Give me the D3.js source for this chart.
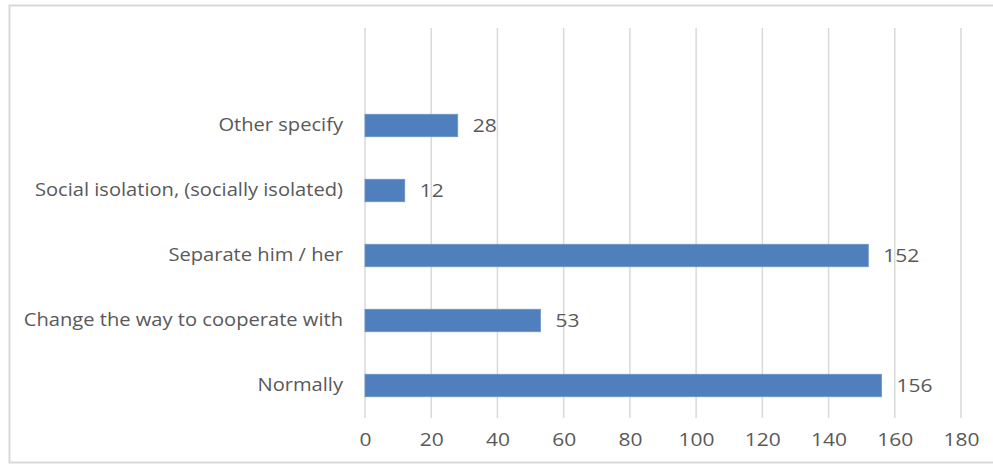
<!DOCTYPE html>
<html>
<head>
<meta charset="utf-8">
<script src="https://cdn.jsdelivr.net/npm/d3@7"></script>
<style>
  html, body { margin: 0; padding: 0; background: #fff; }
  svg { display: block; }
  text { font-family: "Open Sans", sans-serif; fill: #595959; }
</style>
</head>
<body>
<svg id="chart" width="993" height="465"></svg>
<script>
// Responses, listed bottom to top as drawn
const categories = [
  "Normally",
  "Change the way to cooperate with",
  "Separate him / her",
  "Social isolation, (socially isolated)",
  "Other specify"
];
const counts = [156, 53, 152, 12, 28];
const xTicks = [0, 20, 40, 60, 80, 100, 120, 140, 160, 180];

const FONT = "'Open Sans', sans-serif";
const LABEL_STRETCH = 1.15;   // wide-set category text
const NUM_STRETCH = 1.2;      // wide-set numerals

const svg = d3.select("#chart");

// Outer chart frame
svg.append("rect")
  .attr("x", 9.5).attr("y", 5.5)
  .attr("width", 990).attr("height", 457)
  .attr("fill", "#fff")
  .attr("stroke", "#d9d9d9")
  .attr("stroke-width", 2);

const plot = { left: 365, right: 961, top: 28, bottom: 418 };
const slot = 65;

const x = d3.scaleLinear().domain([0, 180]).range([plot.left, plot.right]);
const y = d3.scaleBand()
  .domain(categories)
  .range([plot.bottom, plot.bottom - slot * categories.length])
  .paddingInner(0.655)
  .paddingOuter(0.3275);

// Vertical gridlines
svg.append("g")
  .selectAll("line")
  .data(xTicks)
  .join("line")
  .attr("x1", d => x(d)).attr("x2", d => x(d))
  .attr("y1", plot.top).attr("y2", plot.bottom)
  .attr("stroke", "#d9d9d9")
  .attr("stroke-width", 1.5);

// Bottom axis labels
const xAxis = d3.axisBottom(x).tickValues(xTicks).tickSize(0).tickPadding(16);
const gx = svg.append("g")
  .attr("transform", `translate(0,${plot.bottom})`)
  .call(xAxis);
gx.select(".domain").remove();
gx.selectAll("text")
  .style("font-size", "17.5px")
  .style("font-family", FONT)
  .attr("fill", "#595959")
  .attr("transform", `scale(${NUM_STRETCH},1)`);

// Category labels
const pad = 22;
const yAxis = d3.axisLeft(y).tickSize(0).tickPadding(pad);
const gy = svg.append("g")
  .attr("transform", `translate(${plot.left},0)`)
  .call(yAxis);
gy.select(".domain").remove();
gy.selectAll("text")
  .style("font-size", "17.5px")
  .style("font-family", FONT)
  .attr("fill", "#595959")
  .attr("x", 0)
  .attr("transform", `translate(${-pad},0) scale(${LABEL_STRETCH},1)`);

// Bars
const rows = categories.map((c, i) => ({ c, v: counts[i] }));
svg.append("g")
  .selectAll("rect")
  .data(rows)
  .join("rect")
  .attr("x", x(0))
  .attr("y", d => y(d.c))
  .attr("width", d => x(d.v) - x(0))
  .attr("height", y.bandwidth())
  .attr("fill", "#4f7fbd")
  .attr("stroke", "#6a94c8")
  .attr("stroke-width", 0.8);

// Value labels
svg.append("g")
  .selectAll("text")
  .data(rows)
  .join("text")
  .attr("transform", d =>
    `translate(${x(d.v) + 15},${y(d.c) + y.bandwidth() / 2}) scale(${NUM_STRETCH},1)`)
  .attr("dy", "0.36em")
  .style("font-size", "17.5px")
  .text(d => d.v);
</script>
</body>
</html>
